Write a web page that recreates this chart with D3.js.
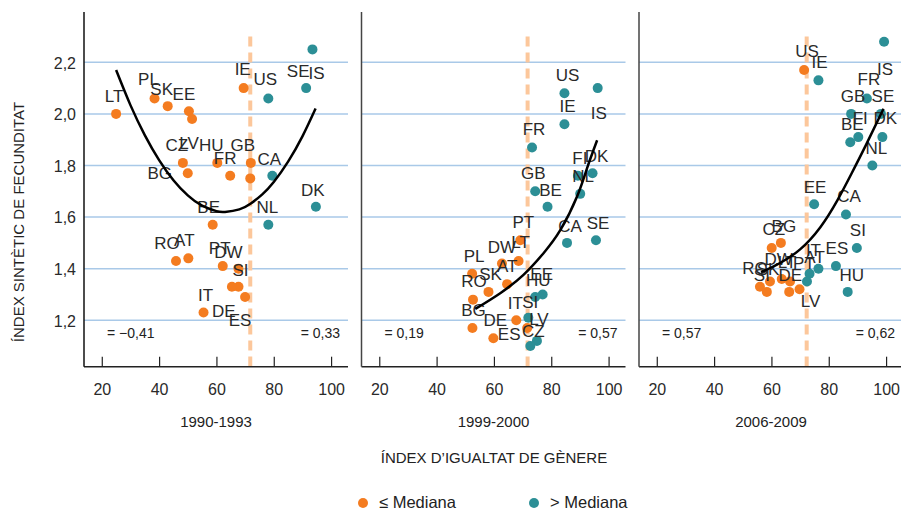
<!DOCTYPE html>
<html><head><meta charset="utf-8">
<script src="https://cdn.jsdelivr.net/npm/d3@7"></script>
<style>body{margin:0;background:#fff}svg{display:block}text{font-family:"Liberation Sans",Arial,sans-serif}</style>
</head><body><svg id="c" width="901" height="512"></svg>
<script>
// ---------------- DATA ----------------
const periods = ["1990-1993", "1999-2000", "2006-2009"];
const xTicks = [20, 40, 60, 80, 100];
const yTicks = [1.2, 1.4, 1.6, 1.8, 2.0, 2.2];
const medians = [71.8, 71.75, 72.3];
const corrLeft = ["= \u22120,41", "= 0,19", "= 0,57"];
const corrRight = ["= 0,33", "= 0,57", "= 0,62"];
const legendLabels = ["\u2264 Mediana", "> Mediana"];

const countries1990 = ["LT","PL","SK","EE","LV","CZ","BG","HU","FR","GB","FI","IE","BE","RO","AT","PT","DW","SI","DE","ES","IT","US","SE","IS","CA","DK","NL"];
const shown1990 =     [1,1,1,1,1,1,1,1,1,1,0,1,1,1,1,1,1,1,1,1,1,1,1,1,1,1,1];
const gei1990 = [25.0,38.4,43.0,50.4,51.5,48.3,50.0,60.3,64.8,72.0,71.8,69.5,58.7,45.9,50.2,62.2,67.7,67.7,65.4,70.0,55.5,78.1,91.3,93.5,79.5,94.7,78.1];
const tfr1990 = [2.00,2.06,2.03,2.01,1.98,1.81,1.77,1.81,1.76,1.81,1.75,2.10,1.57,1.43,1.44,1.41,1.40,1.33,1.33,1.29,1.23,2.06,2.10,2.25,1.76,1.64,1.57];
const group1990 = ["le","le","le","le","le","le","le","le","le","le","le","le","le","le","le","le","le","le","le","le","le","gt","gt","gt","gt","gt","gt"];

const countries1999 = ["US","IS","IE","FR","GB","BE","FI","DK","NL","CA","SE","EE","HU","SI","LV","CZ","PT","LT","DW","AT","PL","SK","RO","BG","DE","IT","ES"];
const shown1999 =     [1,1,1,1,1,1,1,1,1,1,1,1,1,1,1,1,1,1,1,1,1,1,1,1,1,1,1];
const gei1999 = [84.6,96.2,84.6,73.3,74.4,78.7,89.3,94.4,90.1,85.5,95.6,77.0,74.4,72.0,75.0,72.7,69.2,68.6,62.8,64.6,52.4,58.1,52.7,52.5,59.8,67.8,71.6];
const tfr1999 = [2.08,2.10,1.96,1.87,1.70,1.64,1.76,1.77,1.69,1.50,1.51,1.30,1.29,1.21,1.12,1.10,1.51,1.43,1.42,1.34,1.38,1.31,1.28,1.17,1.13,1.20,1.17];
const group1999 = ["gt","gt","gt","gt","gt","gt","gt","gt","gt","gt","gt","gt","gt","gt","gt","gt","le","le","le","le","le","le","le","le","le","le","le"];

const countries2006 = ["US","IE","IS","FR","GB","SE","BE","FI","DK","NL","EE","CA","SI","ES","HU","IT","AT","PT","BG","CZ","RO","SI","SK","DW","LT","DE","LV"];
const shown2006 =     [1,1,1,1,1,1,1,1,1,1,1,1,1,1,1,1,1,1,1,1,1,1,1,1,1,1,1];
const gei2006 = [71.4,76.4,99.3,93.3,87.8,98.2,87.5,90.3,98.7,95.2,74.9,86.0,89.8,82.5,86.6,76.4,73.3,72.4,63.3,60.1,56.0,58.4,59.5,63.6,66.5,66.2,69.8];
const tfr2006 = [2.17,2.13,2.28,2.06,2.00,2.00,1.89,1.91,1.91,1.80,1.65,1.61,1.48,1.41,1.31,1.40,1.38,1.35,1.50,1.48,1.33,1.31,1.35,1.36,1.35,1.31,1.32];
const group2006 = ["le","gt","gt","gt","gt","gt","gt","gt","gt","gt","gt","gt","gt","gt","gt","gt","gt","gt","le","le","le","le","le","le","le","le","le"];

// fitted curves
const trendX1990 = [25,30,35,40,45,50,55,60,63,68,72,76,80,85,90,94.6];
const trendY1990 = [2.17,2.034,1.918,1.821,1.743,1.684,1.644,1.623,1.62,1.63,1.653,1.688,1.736,1.815,1.913,2.021];
const trendX1999 = [53.5,62.2,70.3,77.3,83.2,89.0,92.5,96.0];
const trendY1999 = [1.244,1.305,1.376,1.460,1.550,1.680,1.790,1.898];
const trendX2006 = [56.4,63.0,70.0,77.0,83.0,88.0,93.0,99.1];
const trendY2006 = [1.386,1.422,1.475,1.560,1.665,1.770,1.880,2.020];

// ---------------- LAYOUT (label placement, pixels) ----------------
const labelOffsets = [
  [[-2,-18],[-6,-19],[-6,-17],[-5,-17],[-3,24],[-6,-18],[-28,0],[-6,-18],[-5,-18],[-8,-18],[0,0],[-1,-19],[-4,-18],[-9,-18],[-4,-18],[-3,-18],[-10,-17],[2,-17],[-8,24],[-5,23],[2,-18],[-3,-19],[-8,-17],[4,24],[-3,-17],[-3,-17],[-1,-18]],
  [[3,-18],[1,25],[3,-18],[2,-18],[-2,-18],[3,-17],[2,-18],[4,-17],[3,-18],[3,-17],[2,-17],[-1,-20],[3,-17],[2,-16],[2,-22],[3,-15],[3,-18],[2,-19],[0,-17],[0,-18],[2,-18],[2,-18],[1,-19],[1,-18],[2,-18],[-1,-17],[-18,6]],
  [[3,-19],[1,-18],[1,27],[2,-19],[2,-18],[2,-18],[2,-18],[2,-19],[3,-19],[4,-17],[1,-17],[3,-19],[1,-18],[1,-18],[4,-17],[-5,-19],[5,-17],[-3,-19],[3,-17],[2,-19],[-5,-19],[-5,-17],[-2,-13],[-3,-20],[-3,-20],[1,-17],[11,12]]
];

const panelData = [
  {c: countries1990, s: shown1990, x: gei1990, y: tfr1990, g: group1990, tx: trendX1990, ty: trendY1990},
  {c: countries1999, s: shown1999, x: gei1999, y: tfr1999, g: group1999, tx: trendX1999, ty: trendY1999},
  {c: countries2006, s: shown2006, x: gei2006, y: tfr2006, g: group2006, tx: trendX2006, ty: trendY2006}
];

const colors = {le: "#f47c20", gt: "#2c8f96"};
const svg = d3.select("#c");
const P0 = 84, PSTEP = 277.5, PW = 264, TOP = 12, BOT = 366.7;
const y = d3.scaleLinear().domain([1.02, 2.395]).range([BOT, TOP]);
const loc = d3.formatLocale({decimal: ",", thousands: ".", grouping: [3], currency: ["", "\u20ac"]});
const fmt = loc.format(".1f");

panelData.forEach((pd, i) => {
  const left = P0 + i * PSTEP;
  const g = svg.append("g").attr("transform", `translate(${left},0)`);
  const x = d3.scaleLinear().domain([13.8, 105.9]).range([0, PW]);
  const rightEdge = i === 2 ? 901 - left : PW;

  // gridlines
  g.selectAll("line.grid").data(yTicks).join("line")
    .attr("x1", 0).attr("x2", rightEdge)
    .attr("y1", d => y(d)).attr("y2", d => y(d))
    .attr("stroke", "#a9c9e8").attr("stroke-width", 1.5);

  // median dashed line
  g.append("line")
    .attr("x1", x(medians[i])).attr("x2", x(medians[i]))
    .attr("y1", y(2.3)).attr("y2", BOT)
    .attr("stroke", "#fcc79b").attr("stroke-width", 4).attr("stroke-dasharray", "10,6");

  // axes
  const xa = g.append("g").attr("transform", `translate(0,${BOT})`)
    .call(d3.axisBottom(x).tickValues(xTicks).tickSize(-10).tickSizeOuter(0).tickPadding(16.5));
  xa.select(".domain").attr("stroke", "#222").attr("stroke-width", 1.5).attr("d", `M0,0H${rightEdge}`);
  xa.selectAll(".tick line").attr("stroke", "#222").attr("stroke-width", 1.2);
  xa.selectAll(".tick text").attr("font-size", 16).attr("fill", "#2a2a2a").attr("font-family", "Liberation Sans, Arial, sans-serif");

  const ya = g.append("g")
    .call(d3.axisLeft(y).tickValues(yTicks).tickSize(0).tickSizeOuter(0).tickPadding(8)
      .tickFormat(i === 0 ? fmt : () => ""));
  ya.select(".domain").attr("stroke", i === 0 ? "#111" : "#444").attr("stroke-width", 1.5).attr("d", `M0,${TOP}V${BOT}`);
  ya.selectAll(".tick text").attr("font-size", 16).attr("fill", "#2a2a2a").attr("dy", "0.36em").attr("font-family", "Liberation Sans, Arial, sans-serif");

  // points
  const pts = pd.c.map((c, k) => ({c, s: pd.s[k], x: pd.x[k], y: pd.y[k], g: pd.g[k], off: labelOffsets[i][k]}));
  g.selectAll("circle.pt").data(pts).join("circle")
    .attr("cx", d => x(d.x)).attr("cy", d => y(d.y)).attr("r", 5)
    .attr("fill", d => colors[d.g]);

  // labels
  g.selectAll("text.lab").data(pts.filter(d => d.s)).join("text")
    .attr("x", d => x(d.x) + d.off[0]).attr("y", d => y(d.y) + d.off[1] + 6)
    .attr("text-anchor", "middle").attr("font-size", 17).attr("fill", "#2a2a2a")
    .text(d => d.c);

  // trend
  const tpts = pd.tx.map((v, k) => [v, pd.ty[k]]);
  g.append("path").datum(tpts)
    .attr("d", d3.line().x(d => x(d[0])).y(d => y(d[1])).curve(d3.curveNatural))
    .attr("fill", "none").attr("stroke", "#000").attr("stroke-width", 2.5);

  // correlation texts
  g.append("text").attr("x", 23).attr("y", 338).attr("font-size", 14).attr("fill", "#222").text(corrLeft[i]);
  g.append("text").attr("x", PW - 8).attr("y", 338).attr("text-anchor", "end").attr("font-size", 14).attr("fill", "#222").text(corrRight[i]);

  // period title
  g.append("text").attr("x", PW / 2).attr("y", 427).attr("text-anchor", "middle").attr("font-size", 15).attr("fill", "#222").text(periods[i]);
});

// axis titles
svg.append("text").attr("x", 494).attr("y", 463).attr("text-anchor", "middle").attr("font-size", 15).attr("fill", "#222")
  .text("\u00cdNDEX D\u2019IGUALTAT DE G\u00c8NERE");
svg.append("text").attr("transform", "translate(24,222) rotate(-90)").attr("text-anchor", "middle").attr("font-size", 15).attr("fill", "#222")
  .text("\u00cdNDEX SINT\u00c8TIC DE FECUNDITAT");

// legend
const legX = [363, 534];
["le", "gt"].forEach((k, j) => {
  svg.append("circle").attr("cx", legX[j]).attr("cy", 503).attr("r", 5).attr("fill", colors[k]);
  svg.append("text").attr("x", legX[j] + 16).attr("y", 508).attr("font-size", 16.5).attr("fill", "#222").text(legendLabels[j]);
});
</script>
</body></html>
